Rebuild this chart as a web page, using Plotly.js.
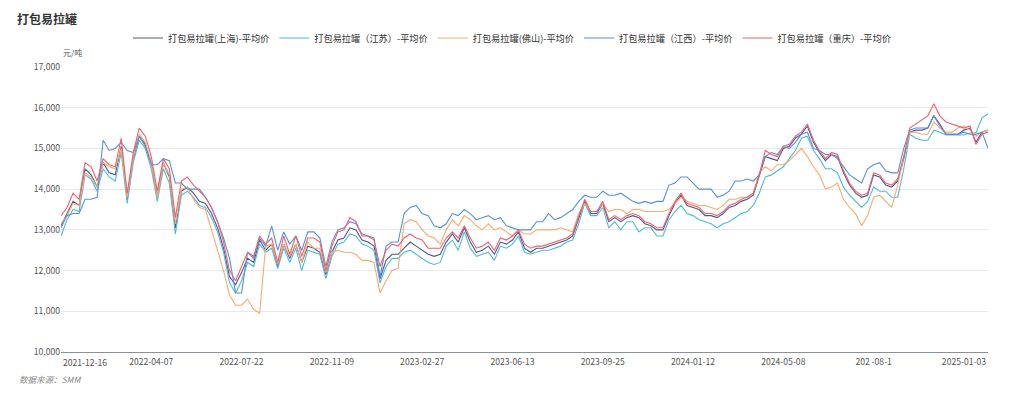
<!DOCTYPE html>
<html><head><meta charset="utf-8">
<script src="https://cdn.plot.ly/plotly-3.0.1.min.js"></script>
<style>html,body{margin:0;padding:0;background:#fff}#chart{width:1024px;height:399px}</style>
</head><body><div id="chart"></div>
<script>
const seriesNames = ['打包易拉罐(上海)-平均价','打包易拉罐（江苏）-平均价','打包易拉罐(佛山)-平均价','打包易拉罐（江西）-平均价','打包易拉罐（重庆）-平均价'];
const seriesColors = ['#4e5491','#4fbad6','#f6ab6e','#5890d8','#f2606b'];

const shanghai = [
13100,13400,13700,13600,14500,14350,14050,14650,14400,14350,
15050,13750,14750,15300,15100,14650,13800,14650,14300,13050,
13950,14050,13900,13700,13650,13400,13050,12550,11850,11650,
11950,12300,12200,12750,12500,12650,12100,12650,12300,12650,
12200,12600,12550,12450,11900,12450,12750,12800,13050,13000,
12750,12700,12600,11800,12250,12400,12400,12550,12700,12600,
12500,12400,12350,12400,12700,12900,12700,13050,12700,12450,
12500,12600,12400,12700,12650,12750,12950,12550,12450,12550,
12550,12600,12650,12700,12750,12850,13250,13700,13400,13400,
13650,13200,13300,13200,13300,13350,13300,13150,13100,13000,
13000,13350,13650,13850,13600,13550,13500,13350,13350,13300,
13400,13550,13600,13700,13750,13850,14300,14800,14750,14700,
15000,15050,15250,15350,15550,15150,14900,14700,14850,14800,
14400,14100,13900,13800,13850,14350,14300,14100,14050,14200,
14750,15400,15450,15450,15500,15800,15600,15350,15350,15350,
15450,15500,15150,15400,15450];

const jiangsu = [
12850,13250,13500,13450,14350,14250,13950,14500,14300,14200,
14900,13650,14650,15200,15000,14500,13700,14500,14150,12900,
13850,13950,13800,13600,13550,13300,12950,12450,11700,11450,
11750,12200,12100,12650,12450,12550,12050,12550,12200,12550,
12000,12500,12450,12400,11800,12350,12650,12700,12900,12850,
12650,12600,12500,11700,12100,12300,12300,12450,12500,12400,
12300,12200,12150,12200,12600,12750,12500,12950,12550,12350,
12400,12450,12250,12600,12550,12650,12850,12450,12400,12450,
12500,12500,12550,12600,12700,12750,13150,13650,13350,13350,
13550,13050,13200,13000,13200,13200,12950,13050,13050,12850,
12850,13250,13450,13600,13400,13350,13250,13200,13150,13050,
13150,13200,13300,13400,13450,13600,13900,14300,14350,14450,
14550,14750,14950,15250,15300,14950,14750,14500,14500,14400,
14050,13850,13700,13550,13700,14050,13950,13950,13800,13800,
14500,15350,15250,15200,15200,15450,15400,15330,15330,15330,
15330,15380,15380,15750,15850];

const foshan = [
13150,13350,13650,13600,14400,14300,14050,14650,14550,14500,
15000,13800,14800,15350,15150,14650,13800,14650,14350,13150,
14000,14050,13750,13550,13500,13000,12500,12000,11400,11150,
11150,11300,11050,10950,12600,12650,12150,12650,12350,12650,
12200,12700,12550,12550,11950,12450,12500,12450,12450,12400,
12250,12250,12200,11450,11750,12000,12050,13150,13250,13200,
13000,12850,12800,12650,13000,13250,13100,13350,13250,13100,
13000,13150,13000,13050,12950,12850,13000,12900,12900,13000,
13000,13000,13000,13050,13000,12950,13400,13650,13450,13450,
13650,13450,13500,13500,13400,13500,13500,13450,13450,13450,
13450,13500,13650,13800,13700,13650,13600,13600,13550,13500,
13600,13750,13750,13800,13800,13900,14400,14550,14450,14600,
14600,14700,14850,15000,14800,14550,14350,14000,14050,14150,
13750,13550,13400,13100,13350,13800,13850,13700,13550,14100,
14800,15400,15400,15350,15350,15650,15500,15400,15400,15500,
15550,15450,15300,15400,15450];

const jiangxi = [
13050,13350,13400,13400,13750,13750,13800,15200,14950,15000,
15150,14950,14900,15300,15050,14600,14600,14750,14700,14150,
14150,14000,14000,14000,13800,13550,13200,12800,12300,11450,
11450,12450,12300,12800,12600,13100,12500,12950,12650,12850,
12500,12950,12950,12800,12100,12700,13000,13050,13200,13150,
12900,12850,12800,11850,12600,12700,12700,13400,13550,13600,
13400,13350,13100,13050,13150,13400,13350,13500,13400,13250,
13300,13350,13250,13300,13100,13050,13000,13000,13000,13200,
13200,13400,13250,13300,13400,13500,13700,13850,13800,13800,
13950,13850,13850,13900,13800,13700,13650,13700,13650,13700,
13700,14100,14150,14300,14300,14150,14000,14000,14000,13800,
13850,13950,14200,14200,14250,14200,14350,14800,14900,14850,
15050,15000,15150,15350,15400,15000,14950,14850,14850,14750,
14550,14350,14250,14150,14500,14600,14650,14450,14400,14400,
15000,15450,15500,15500,15500,15800,15550,15350,15350,15350,
15400,15350,15350,15400,15000];

const chongqing = [
13350,13550,13900,13750,14650,14550,14200,14750,14600,14550,
15250,13900,14900,15500,15300,14800,13950,14750,14500,13300,
14200,14300,14100,13950,13800,13550,13200,12700,12000,11750,
12100,12450,12350,12850,12650,12800,12200,12850,12400,12850,
12350,12800,12800,12700,12000,12600,12950,13000,13300,13200,
12850,12850,12750,12100,12500,12650,12600,12800,12900,12800,
12750,12550,12550,12550,12800,12950,12800,13100,12800,12550,
12600,12700,12500,12800,12750,12850,13000,12650,12550,12600,
12600,12650,12700,12750,12800,12900,13300,13750,13450,13450,
13700,13250,13350,13250,13350,13400,13350,13200,13150,13050,
13050,13400,13700,13900,13650,13600,13550,13400,13400,13350,
13450,13600,13650,13750,13800,13900,14350,14950,14850,14800,
15050,15100,15300,15400,15600,15200,14950,14750,14900,14850,
14450,14150,13950,13850,13900,14400,14350,14150,14100,14250,
14800,15500,15600,15700,15800,16100,15800,15650,15600,15550,
15500,15550,15100,15350,15400];

const firstTickLabel = '2021-12-16';
const tickIndex = [15,30,45,60,75,90,105,120,135,150];
const tickLabels = ['2022-04-07','2022-07-22','2022-11-09','2023-02-27','2023-06-13','2023-09-25','2024-01-12','2024-05-08','202 -08-1','2025-01-03'];

const allSeries = [shanghai, jiangsu, foshan, jiangxi, chongqing];
const FONT = '"Noto Sans CJK SC", "Noto Sans", sans-serif';

const traces = allSeries.map((s, k) => ({
  type: 'scatter', mode: 'lines', y: s, name: seriesNames[k],
  line: {color: seriesColors[k], width: 1.1}, hoverinfo: 'skip'
}));

const layout = {
  width: 1024, height: 399,
  margin: {l: 61, r: 36, t: 67, b: 47, pad: 0},
  paper_bgcolor: '#fff', plot_bgcolor: '#fff',
  font: {family: FONT, color: '#555', size: 9},
  hovermode: false,
  title: {text: '打包易拉罐', xref: 'container', yref: 'container', x: 17/1024, xanchor: 'left',
          y: 1 - 20/399, yanchor: 'middle', font: {family: FONT, size: 12, color: '#333', weight: 'bold'}},
  showlegend: true,
  legend: {orientation: 'h', xref: 'container', yref: 'container', x: 0.5, xanchor: 'center',
           y: 1 - 38/399, yanchor: 'middle', font: {family: FONT, size: 9.2, color: '#333'},
           itemwidth: 30, tracegroupgap: 0, bgcolor: 'rgba(0,0,0,0)'},
  xaxis: {range: [0, 154], tickvals: tickIndex, ticktext: tickLabels, showgrid: false, zeroline: false,
          showline: true, linecolor: '#8c9099', linewidth: 1, ticks: '', automargin: false,
          ticklabelstandoff: 2,
          tickfont: {family: FONT, size: 8.6, color: '#555'}, fixedrange: true},
  yaxis: {range: [10000, 17000], dtick: 1000, tick0: 10000, tickformat: ',d', showgrid: true, gridcolor: '#e9e9e9',
          gridwidth: 1, zeroline: false, showline: false, ticks: '', automargin: false,
          tickfont: {family: FONT, size: 8.6, color: '#555'}, fixedrange: true},
  annotations: [
    {xref: 'x', yref: 'paper', x: 0, y: 0, xanchor: 'left', yanchor: 'top', yshift: -2, showarrow: false,
     text: firstTickLabel, font: {family: FONT, size: 8.6, color: '#555'}},
    {xref: 'paper', yref: 'paper', x: 0, y: 1, xanchor: 'left', yanchor: 'middle', yshift: 15, showarrow: false,
     text: '元/吨', font: {family: FONT, size: 8, color: '#555'}},
    {xref: 'paper', yref: 'paper', x: (17-61)/927, y: (352-379)/285, xanchor: 'left', yanchor: 'middle', showarrow: false,
     text: '数据来源：SMM', font: {family: FONT, size: 8.5, color: '#888', style: 'italic'}}
  ]
};

Plotly.newPlot('chart', traces, layout, {displayModeBar: false, staticPlot: true});
</script>
</body></html>
